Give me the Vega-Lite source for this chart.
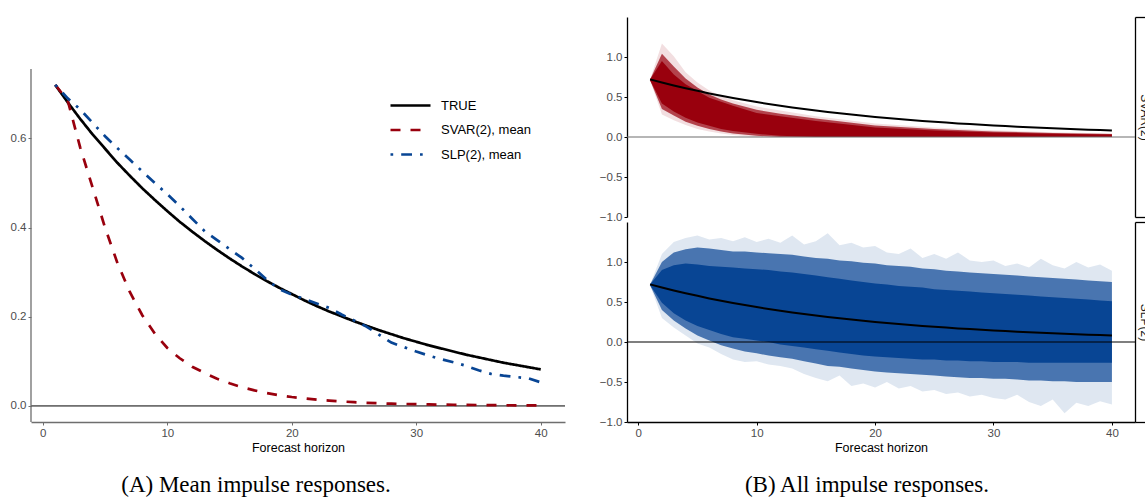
{
  "$schema": "https://vega.github.io/schema/vega-lite/v6.json",
  "padding": {"left": 10, "top": 16, "right": 0, "bottom": 0},
  "background": "white",
  "config": {
    "view": {"stroke": null},
    "font": "Liberation Sans",
    "axis": {"labelFont": "Liberation Sans", "labelColor": "#4d4d4d", "labelFontSize": 11.5, "titleFont": "Liberation Sans", "titleFontWeight": "normal", "titleFontSize": 12.5, "titleColor": "black", "grid": false, "tickSize": 3, "labelPadding": 2, "titlePadding": 3}
  },
  "datasets": {
    "mean": [
      {"h":1,"s":"TRUE","v":0.720},{"h":2,"s":"TRUE","v":0.681},{"h":3,"s":"TRUE","v":0.644},{"h":4,"s":"TRUE","v":0.609},{"h":5,"s":"TRUE","v":0.577},
      {"h":6,"s":"TRUE","v":0.545},{"h":7,"s":"TRUE","v":0.516},{"h":8,"s":"TRUE","v":0.488},{"h":9,"s":"TRUE","v":0.462},{"h":10,"s":"TRUE","v":0.437},
      {"h":11,"s":"TRUE","v":0.413},{"h":12,"s":"TRUE","v":0.391},{"h":13,"s":"TRUE","v":0.370},{"h":14,"s":"TRUE","v":0.350},{"h":15,"s":"TRUE","v":0.331},
      {"h":16,"s":"TRUE","v":0.313},{"h":17,"s":"TRUE","v":0.296},{"h":18,"s":"TRUE","v":0.280},{"h":19,"s":"TRUE","v":0.265},{"h":20,"s":"TRUE","v":0.251},
      {"h":21,"s":"TRUE","v":0.237},{"h":22,"s":"TRUE","v":0.224},{"h":23,"s":"TRUE","v":0.212},{"h":24,"s":"TRUE","v":0.201},{"h":25,"s":"TRUE","v":0.190},
      {"h":26,"s":"TRUE","v":0.180},{"h":27,"s":"TRUE","v":0.170},{"h":28,"s":"TRUE","v":0.161},{"h":29,"s":"TRUE","v":0.152},{"h":30,"s":"TRUE","v":0.144},
      {"h":31,"s":"TRUE","v":0.136},{"h":32,"s":"TRUE","v":0.129},{"h":33,"s":"TRUE","v":0.122},{"h":34,"s":"TRUE","v":0.115},{"h":35,"s":"TRUE","v":0.109},
      {"h":36,"s":"TRUE","v":0.103},{"h":37,"s":"TRUE","v":0.097},{"h":38,"s":"TRUE","v":0.092},{"h":39,"s":"TRUE","v":0.087},{"h":40,"s":"TRUE","v":0.082},
      {"h":1,"s":"SVAR(2), mean","v":0.720},{"h":2,"s":"SVAR(2), mean","v":0.685},{"h":3,"s":"SVAR(2), mean","v":0.580},{"h":4,"s":"SVAR(2), mean","v":0.490},{"h":5,"s":"SVAR(2), mean","v":0.400},
      {"h":6,"s":"SVAR(2), mean","v":0.320},{"h":7,"s":"SVAR(2), mean","v":0.255},{"h":8,"s":"SVAR(2), mean","v":0.203},{"h":9,"s":"SVAR(2), mean","v":0.162},{"h":10,"s":"SVAR(2), mean","v":0.130},
      {"h":11,"s":"SVAR(2), mean","v":0.107},{"h":12,"s":"SVAR(2), mean","v":0.088},{"h":13,"s":"SVAR(2), mean","v":0.074},{"h":14,"s":"SVAR(2), mean","v":0.061},{"h":15,"s":"SVAR(2), mean","v":0.051},
      {"h":16,"s":"SVAR(2), mean","v":0.042},{"h":17,"s":"SVAR(2), mean","v":0.035},{"h":18,"s":"SVAR(2), mean","v":0.029},{"h":19,"s":"SVAR(2), mean","v":0.024},{"h":20,"s":"SVAR(2), mean","v":0.020},
      {"h":21,"s":"SVAR(2), mean","v":0.017},{"h":22,"s":"SVAR(2), mean","v":0.014},{"h":23,"s":"SVAR(2), mean","v":0.012},{"h":24,"s":"SVAR(2), mean","v":0.010},{"h":25,"s":"SVAR(2), mean","v":0.0085},
      {"h":26,"s":"SVAR(2), mean","v":0.007},{"h":27,"s":"SVAR(2), mean","v":0.006},{"h":28,"s":"SVAR(2), mean","v":0.005},{"h":29,"s":"SVAR(2), mean","v":0.0045},{"h":30,"s":"SVAR(2), mean","v":0.004},
      {"h":31,"s":"SVAR(2), mean","v":0.0035},{"h":32,"s":"SVAR(2), mean","v":0.003},{"h":33,"s":"SVAR(2), mean","v":0.0027},{"h":34,"s":"SVAR(2), mean","v":0.0024},{"h":35,"s":"SVAR(2), mean","v":0.0021},
      {"h":36,"s":"SVAR(2), mean","v":0.0018},{"h":37,"s":"SVAR(2), mean","v":0.0016},{"h":38,"s":"SVAR(2), mean","v":0.0014},{"h":39,"s":"SVAR(2), mean","v":0.0012},{"h":40,"s":"SVAR(2), mean","v":0.001},
      {"h":1,"s":"SLP(2), mean","v":0.720},{"h":2,"s":"SLP(2), mean","v":0.690},{"h":3,"s":"SLP(2), mean","v":0.665},{"h":4,"s":"SLP(2), mean","v":0.635},{"h":5,"s":"SLP(2), mean","v":0.605},
      {"h":6,"s":"SLP(2), mean","v":0.578},{"h":7,"s":"SLP(2), mean","v":0.552},{"h":8,"s":"SLP(2), mean","v":0.526},{"h":9,"s":"SLP(2), mean","v":0.500},{"h":10,"s":"SLP(2), mean","v":0.475},
      {"h":11,"s":"SLP(2), mean","v":0.448},{"h":12,"s":"SLP(2), mean","v":0.420},{"h":13,"s":"SLP(2), mean","v":0.392},{"h":14,"s":"SLP(2), mean","v":0.372},{"h":15,"s":"SLP(2), mean","v":0.352},
      {"h":16,"s":"SLP(2), mean","v":0.332},{"h":17,"s":"SLP(2), mean","v":0.308},{"h":18,"s":"SLP(2), mean","v":0.283},{"h":19,"s":"SLP(2), mean","v":0.262},{"h":20,"s":"SLP(2), mean","v":0.250},
      {"h":21,"s":"SLP(2), mean","v":0.240},{"h":22,"s":"SLP(2), mean","v":0.230},{"h":23,"s":"SLP(2), mean","v":0.220},{"h":24,"s":"SLP(2), mean","v":0.205},{"h":25,"s":"SLP(2), mean","v":0.192},
      {"h":26,"s":"SLP(2), mean","v":0.178},{"h":27,"s":"SLP(2), mean","v":0.160},{"h":28,"s":"SLP(2), mean","v":0.142},{"h":29,"s":"SLP(2), mean","v":0.132},{"h":30,"s":"SLP(2), mean","v":0.122},
      {"h":31,"s":"SLP(2), mean","v":0.113},{"h":32,"s":"SLP(2), mean","v":0.105},{"h":33,"s":"SLP(2), mean","v":0.098},{"h":34,"s":"SLP(2), mean","v":0.090},{"h":35,"s":"SLP(2), mean","v":0.080},
      {"h":36,"s":"SLP(2), mean","v":0.072},{"h":37,"s":"SLP(2), mean","v":0.068},{"h":38,"s":"SLP(2), mean","v":0.065},{"h":39,"s":"SLP(2), mean","v":0.062},{"h":40,"s":"SLP(2), mean","v":0.053}
    ],
    "svar": [
      {"h":1,"olo":0.71,"ohi":0.72,"mlo":0.71,"mhi":0.72,"clo":0.71,"chi":0.72},
      {"h":2,"olo":0.28,"ohi":1.17,"mlo":0.35,"mhi":1.04,"clo":0.42,"chi":0.95},
      {"h":3,"olo":0.21,"ohi":1.01,"mlo":0.27,"mhi":0.88,"clo":0.32,"chi":0.78},
      {"h":4,"olo":0.15,"ohi":0.81,"mlo":0.19,"mhi":0.73,"clo":0.24,"chi":0.66},
      {"h":5,"olo":0.10,"ohi":0.68,"mlo":0.14,"mhi":0.62,"clo":0.18,"chi":0.575},
      {"h":6,"olo":0.07,"ohi":0.58,"mlo":0.10,"mhi":0.53,"clo":0.14,"chi":0.49},
      {"h":7,"olo":0.045,"ohi":0.51,"mlo":0.07,"mhi":0.47,"clo":0.10,"chi":0.44},
      {"h":8,"olo":0.025,"ohi":0.46,"mlo":0.045,"mhi":0.42,"clo":0.075,"chi":0.39},
      {"h":10,"olo":0.0,"ohi":0.38,"mlo":0.015,"mhi":0.34,"clo":0.04,"chi":0.30},
      {"h":12,"olo":0.0,"ohi":0.33,"mlo":0.0,"mhi":0.29,"clo":0.015,"chi":0.26},
      {"h":15,"olo":0.0,"ohi":0.26,"mlo":0.0,"mhi":0.23,"clo":0.0,"chi":0.20},
      {"h":20,"olo":0.0,"ohi":0.17,"mlo":0.0,"mhi":0.145,"clo":0.0,"chi":0.12},
      {"h":25,"olo":0.0,"ohi":0.12,"mlo":0.0,"mhi":0.10,"clo":0.0,"chi":0.08},
      {"h":30,"olo":0.0,"ohi":0.085,"mlo":0.0,"mhi":0.07,"clo":0.0,"chi":0.055},
      {"h":35,"olo":0.0,"ohi":0.06,"mlo":0.0,"mhi":0.05,"clo":0.0,"chi":0.04},
      {"h":40,"olo":0.0,"ohi":0.045,"mlo":0.0,"mhi":0.037,"clo":0.0,"chi":0.03}
    ],
    "slp": [
      {"h":1,"olo":0.71,"ohi":0.72,"mlo":0.71,"mhi":0.72,"clo":0.71,"chi":0.72},
      {"h":2,"olo":0.30,"ohi":1.10,"mlo":0.40,"mhi":1.00,"clo":0.49,"chi":0.90},
      {"h":3,"olo":0.18,"ohi":1.25,"mlo":0.27,"mhi":1.12,"clo":0.36,"chi":0.96},
      {"h":4,"olo":0.08,"ohi":1.30,"mlo":0.17,"mhi":1.16,"clo":0.27,"chi":0.98},
      {"h":5,"olo":-0.02,"ohi":1.33,"mlo":0.08,"mhi":1.18,"clo":0.20,"chi":0.97},
      {"h":6,"olo":-0.07,"ohi":1.28,"mlo":0.02,"mhi":1.17,"clo":0.15,"chi":0.95},
      {"h":7,"olo":-0.15,"ohi":1.30,"mlo":-0.04,"mhi":1.15,"clo":0.10,"chi":0.94},
      {"h":8,"olo":-0.22,"ohi":1.26,"mlo":-0.08,"mhi":1.13,"clo":0.06,"chi":0.93},
      {"h":9,"olo":-0.25,"ohi":1.31,"mlo":-0.12,"mhi":1.13,"clo":0.04,"chi":0.92},
      {"h":10,"olo":-0.24,"ohi":1.25,"mlo":-0.14,"mhi":1.12,"clo":0.02,"chi":0.91},
      {"h":11,"olo":-0.28,"ohi":1.29,"mlo":-0.17,"mhi":1.11,"clo":0.00,"chi":0.90},
      {"h":12,"olo":-0.30,"ohi":1.24,"mlo":-0.19,"mhi":1.10,"clo":-0.03,"chi":0.88},
      {"h":13,"olo":-0.33,"ohi":1.33,"mlo":-0.21,"mhi":1.09,"clo":-0.05,"chi":0.87},
      {"h":14,"olo":-0.40,"ohi":1.22,"mlo":-0.24,"mhi":1.07,"clo":-0.07,"chi":0.85},
      {"h":15,"olo":-0.45,"ohi":1.26,"mlo":-0.27,"mhi":1.05,"clo":-0.09,"chi":0.83},
      {"h":16,"olo":-0.49,"ohi":1.36,"mlo":-0.30,"mhi":1.04,"clo":-0.11,"chi":0.81},
      {"h":17,"olo":-0.42,"ohi":1.21,"mlo":-0.31,"mhi":1.02,"clo":-0.13,"chi":0.79},
      {"h":18,"olo":-0.55,"ohi":1.24,"mlo":-0.33,"mhi":1.01,"clo":-0.15,"chi":0.77},
      {"h":19,"olo":-0.52,"ohi":1.18,"mlo":-0.35,"mhi":0.99,"clo":-0.17,"chi":0.75},
      {"h":20,"olo":-0.57,"ohi":1.20,"mlo":-0.37,"mhi":0.98,"clo":-0.18,"chi":0.73},
      {"h":21,"olo":-0.50,"ohi":1.12,"mlo":-0.38,"mhi":0.96,"clo":-0.19,"chi":0.72},
      {"h":22,"olo":-0.58,"ohi":1.10,"mlo":-0.39,"mhi":0.95,"clo":-0.20,"chi":0.70},
      {"h":23,"olo":-0.55,"ohi":1.17,"mlo":-0.40,"mhi":0.94,"clo":-0.21,"chi":0.69},
      {"h":24,"olo":-0.62,"ohi":1.05,"mlo":-0.41,"mhi":0.92,"clo":-0.22,"chi":0.68},
      {"h":25,"olo":-0.60,"ohi":1.10,"mlo":-0.42,"mhi":0.91,"clo":-0.22,"chi":0.66},
      {"h":26,"olo":-0.65,"ohi":1.04,"mlo":-0.43,"mhi":0.89,"clo":-0.23,"chi":0.65},
      {"h":27,"olo":-0.63,"ohi":1.12,"mlo":-0.44,"mhi":0.88,"clo":-0.23,"chi":0.64},
      {"h":28,"olo":-0.68,"ohi":1.02,"mlo":-0.45,"mhi":0.87,"clo":-0.24,"chi":0.63},
      {"h":29,"olo":-0.66,"ohi":1.00,"mlo":-0.45,"mhi":0.86,"clo":-0.24,"chi":0.62},
      {"h":30,"olo":-0.70,"ohi":1.02,"mlo":-0.46,"mhi":0.85,"clo":-0.25,"chi":0.61},
      {"h":31,"olo":-0.72,"ohi":0.95,"mlo":-0.46,"mhi":0.84,"clo":-0.25,"chi":0.60},
      {"h":32,"olo":-0.66,"ohi":0.98,"mlo":-0.47,"mhi":0.83,"clo":-0.25,"chi":0.59},
      {"h":33,"olo":-0.75,"ohi":0.93,"mlo":-0.48,"mhi":0.82,"clo":-0.26,"chi":0.58},
      {"h":34,"olo":-0.80,"ohi":1.04,"mlo":-0.48,"mhi":0.81,"clo":-0.26,"chi":0.57},
      {"h":35,"olo":-0.72,"ohi":0.96,"mlo":-0.49,"mhi":0.80,"clo":-0.26,"chi":0.56},
      {"h":36,"olo":-0.89,"ohi":0.92,"mlo":-0.49,"mhi":0.79,"clo":-0.26,"chi":0.55},
      {"h":37,"olo":-0.76,"ohi":1.00,"mlo":-0.50,"mhi":0.78,"clo":-0.26,"chi":0.54},
      {"h":38,"olo":-0.80,"ohi":0.93,"mlo":-0.50,"mhi":0.77,"clo":-0.26,"chi":0.53},
      {"h":39,"olo":-0.74,"ohi":0.97,"mlo":-0.50,"mhi":0.76,"clo":-0.26,"chi":0.52},
      {"h":40,"olo":-0.78,"ohi":0.89,"mlo":-0.50,"mhi":0.75,"clo":-0.26,"chi":0.51}
    ]
  },
  "spacing": 33,
  "hconcat": [
    {
      "width": 534,
      "height": 405,
      "title": {"text": "(A) Mean impulse responses.", "orient": "bottom", "anchor": "middle", "font": "Liberation Serif", "fontSize": 23, "fontWeight": "normal", "color": "black", "offset": 20, "dx": -42},
      "layer": [
        {
          "data": {"values": [{}]},
          "mark": {"type": "rule", "color": "black", "strokeWidth": 1},
          "encoding": {"y": {"datum": 0, "type": "quantitative", "scale": {"domain": [-0.036, 0.8724], "nice": false}}}
        },
        {
          "data": {"values": [{}]},
          "mark": {"type": "rule", "color": "#6e6e6e", "strokeWidth": 1.3},
          "encoding": {
            "x": {"datum": -0.95, "type": "quantitative"},
            "y": {"datum": -0.036, "type": "quantitative"},
            "y2": {"datum": 0.756}
          }
        },
        {
          "data": {"name": "mean"},
          "mark": {"type": "line", "strokeWidth": 2.7},
          "encoding": {
            "x": {"field": "h", "type": "quantitative", "scale": {"domain": [-0.95, 41.95], "nice": false, "zero": false},
                  "axis": {"values": [0, 10, 20, 30, 40], "title": "Forecast horizon", "domainColor": "#6e6e6e", "domainWidth": 1.3, "tickColor": "#6e6e6e"}},
            "y": {"field": "v", "type": "quantitative", "scale": {"domain": [-0.036, 0.8724], "nice": false},
                  "axis": {"values": [0, 0.2, 0.4, 0.6], "format": ".1f", "title": null, "domain": false, "tickColor": "#6e6e6e"}},
            "color": {"field": "s", "type": "nominal",
                      "scale": {"domain": ["TRUE", "SVAR(2), mean", "SLP(2), mean"], "range": ["#000000", "#99000D", "#084594"]},
                      "legend": {"orient": "none", "legendX": 373, "legendY": 82, "title": null, "padding": 0, "symbolType": "M-4,0H4", "symbolSize": 100, "symbolStrokeWidth": 2.7, "labelFontSize": 13, "labelColor": "black", "labelFont": "Liberation Sans", "labelOffset": 24, "rowPadding": 10.5}},
            "strokeDash": {"field": "s", "type": "nominal",
                           "scale": {"domain": ["TRUE", "SVAR(2), mean", "SLP(2), mean"], "range": [[1, 0], [10, 10], [2.7, 8, 10.8, 8]]},
                           "legend": null},
            "order": {"field": "h", "type": "quantitative"}
          }
        }
      ]
    },
    {
      "title": {"text": "(B) All impulse responses.", "orient": "bottom", "anchor": "middle", "font": "Liberation Serif", "fontSize": 23, "fontWeight": "normal", "color": "black", "offset": 20, "dx": -8},
      "spacing": 5,
      "bounds": "flush",
      "vconcat": [
        {
          "width": 508,
          "height": 200,
          "resolve": {"axis": {"y": "independent"}},
          "layer": [
            {
              "data": {"name": "svar"},
              "mark": {"type": "area", "color": "#99000D", "opacity": 0.13},
              "encoding": {
                "x": {"field": "h", "type": "quantitative", "scale": {"domain": [-0.95, 41.95], "nice": false, "zero": false}, "axis": null},
                "y": {"field": "olo", "type": "quantitative", "scale": {"domain": [-1, 1.5], "nice": false},
                      "axis": {"values": [-1, -0.5, 0, 0.5, 1], "format": ".1f", "title": null, "domainColor": "black", "domainWidth": 1.3, "tickColor": "black"}},
                "y2": {"field": "ohi"}
              }
            },
            {
              "data": {"name": "svar"},
              "mark": {"type": "area", "color": "#99000D", "opacity": 0.7},
              "encoding": {
                "x": {"field": "h", "type": "quantitative", "axis": null},
                "y": {"field": "mlo", "type": "quantitative", "axis": null},
                "y2": {"field": "mhi"}
              }
            },
            {
              "data": {"name": "svar"},
              "mark": {"type": "area", "color": "#99000D", "opacity": 1},
              "encoding": {
                "x": {"field": "h", "type": "quantitative", "axis": null},
                "y": {"field": "clo", "type": "quantitative", "axis": null},
                "y2": {"field": "chi"}
              }
            },
            {
              "data": {"values": [{}]},
              "mark": {"type": "rule", "color": "#6e6e6e", "strokeWidth": 1.2},
              "encoding": {"y": {"datum": 0, "type": "quantitative",
                "axis": {"orient": "right", "values": [-1, 1.5], "labels": false, "tickSize": 10, "tickColor": "black", "tickWidth": 1.3, "domainColor": "black", "domainWidth": 1.3, "title": "SVAR(2)", "titleAngle": 90, "titlePadding": -8, "titleColor": "#1a1a1a", "titleFontSize": 12}}}
            },
            {
              "data": {"name": "mean"},
              "transform": [{"filter": "datum.s === 'TRUE'"}],
              "mark": {"type": "line", "color": "black", "strokeWidth": 2},
              "encoding": {
                "x": {"field": "h", "type": "quantitative", "axis": null},
                "y": {"field": "v", "type": "quantitative", "axis": null}
              }
            }
          ]
        },
        {
          "width": 508,
          "height": 200,
          "resolve": {"axis": {"y": "independent"}},
          "layer": [
            {
              "data": {"name": "slp"},
              "mark": {"type": "area", "color": "#084594", "opacity": 0.13},
              "encoding": {
                "x": {"field": "h", "type": "quantitative", "scale": {"domain": [-0.95, 41.95], "nice": false, "zero": false},
                      "axis": {"values": [0, 10, 20, 30, 40], "title": "Forecast horizon", "domainColor": "black", "domainWidth": 1.3, "tickColor": "black"}},
                "y": {"field": "olo", "type": "quantitative", "scale": {"domain": [-1, 1.5], "nice": false},
                      "axis": {"values": [-1, -0.5, 0, 0.5, 1], "format": ".1f", "title": null, "domainColor": "black", "domainWidth": 1.3, "tickColor": "black"}},
                "y2": {"field": "ohi"}
              }
            },
            {
              "data": {"name": "slp"},
              "mark": {"type": "area", "color": "#084594", "opacity": 0.7},
              "encoding": {
                "x": {"field": "h", "type": "quantitative"},
                "y": {"field": "mlo", "type": "quantitative", "axis": null},
                "y2": {"field": "mhi"}
              }
            },
            {
              "data": {"name": "slp"},
              "mark": {"type": "area", "color": "#084594", "opacity": 1},
              "encoding": {
                "x": {"field": "h", "type": "quantitative"},
                "y": {"field": "clo", "type": "quantitative", "axis": null},
                "y2": {"field": "chi"}
              }
            },
            {
              "data": {"values": [{}]},
              "mark": {"type": "rule", "color": "black", "strokeWidth": 1.2},
              "encoding": {"y": {"datum": 0, "type": "quantitative",
                "axis": {"orient": "right", "values": [-1, 1.5], "labels": false, "tickSize": 10, "tickColor": "black", "tickWidth": 1.3, "domainColor": "black", "domainWidth": 1.3, "title": "SLP(2)", "titleAngle": 90, "titlePadding": -8, "titleColor": "#1a1a1a", "titleFontSize": 12}}}
            },
            {
              "data": {"name": "mean"},
              "transform": [{"filter": "datum.s === 'TRUE'"}],
              "mark": {"type": "line", "color": "black", "strokeWidth": 2},
              "encoding": {
                "x": {"field": "h", "type": "quantitative"},
                "y": {"field": "v", "type": "quantitative", "axis": null}
              }
            }
          ]
        }
      ]
    }
  ]
}
